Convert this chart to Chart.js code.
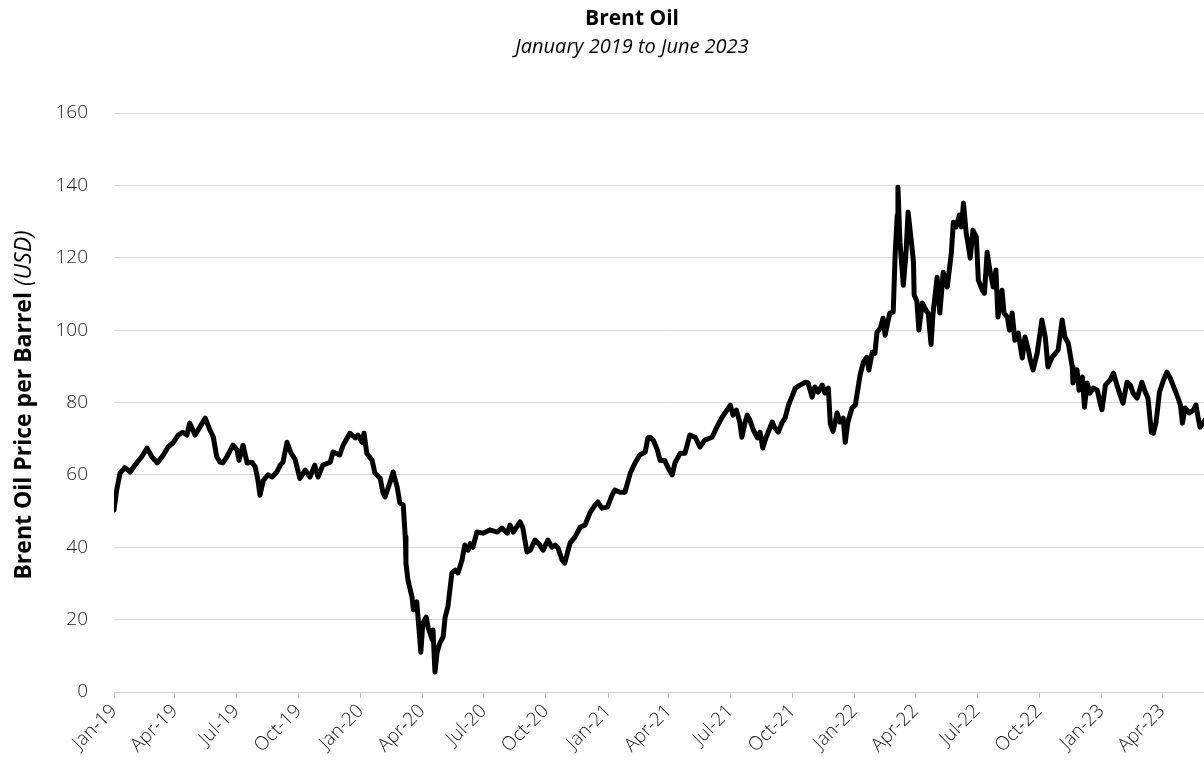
<!DOCTYPE html>
<html><head><meta charset="utf-8">
<script src="https://cdn.jsdelivr.net/npm/chart.js@4.4.1/dist/chart.umd.min.js"></script>
<style>
html,body{margin:0;padding:0;overflow:hidden;background:#fff;width:1204px;height:778px}
#wrap{position:absolute;left:0;top:0;width:1264px;height:778px}
</style></head>
<body><div id="wrap"><canvas id="c" width="1264" height="778"></canvas></div>
<script>
const titleText = "Brent Oil";
const subtitleText = "January 2019 to June 2023";
const yTitleMain = "Brent Oil Price per Barrel ";
const yTitleUnit = "(USD)";
const tickLabels = ["Jan-19","Apr-19","Jul-19","Oct-19","Jan-20","Apr-20","Jul-20","Oct-20","Jan-21","Apr-21","Jul-21","Oct-21","Jan-22","Apr-22","Jul-22","Oct-22","Jan-23","Apr-23"];
const tickDays = [0,90,181,273,365,456,547,639,731,821,912,1004,1096,1186,1277,1369,1461,1551];
// days since 1 Jan 2019
const days = [0,4,9,16,24,31,41,49,56,64,73,80,87,95,102,108,112,120,127,135,142,147,152,157,161,167,176,182,185,191,197,204,209,213,216,221,228,234,241,246,250,256,262,268,275,283,290,297,302,309,320,324,334,339,349,357,361,367,370,374,382,386,394,398,401,408,413,419,423,428,431,432,435,441,443,448,451,454,457,462,465,471,472,475,478,482,487,490,494,500,505,509,515,519,524,527,531,537,546,556,567,574,582,586,591,596,601,605,611,616,623,630,635,642,648,653,657,663,667,672,675,682,690,697,704,712,716,722,730,737,741,749,756,764,771,778,786,790,793,798,804,808,815,820,826,830,838,845,852,860,867,874,885,892,900,907,912,916,921,926,929,934,937,941,946,952,956,960,965,974,978,983,989,993,998,1003,1008,1015,1023,1027,1033,1037,1042,1048,1052,1057,1060,1064,1070,1074,1079,1082,1086,1092,1097,1100,1104,1109,1114,1117,1122,1126,1129,1134,1138,1141,1145,1148,1153,1156,1159,1160,1163,1166,1168,1172,1175,1180,1183,1184,1188,1191,1196,1200,1205,1209,1212,1218,1222,1227,1233,1239,1242,1246,1251,1254,1257,1261,1264,1267,1271,1276,1279,1285,1288,1292,1296,1301,1305,1308,1314,1317,1322,1325,1329,1333,1338,1344,1348,1353,1356,1360,1366,1373,1378,1382,1388,1393,1397,1403,1407,1412,1418,1419,1425,1428,1433,1436,1440,1444,1449,1455,1459,1462,1467,1474,1479,1484,1489,1493,1499,1504,1508,1514,1521,1526,1530,1535,1538,1542,1547,1553,1558,1563,1567,1573,1578,1581,1585,1591,1597,1601,1604,1607,1616];
const prices = [50.3,55.8,60.5,62,60.8,62.7,65,67.4,65,63.3,65.5,67.7,68.8,71,71.8,71,74.3,71,73.2,75.7,72.4,70.4,65,63.5,63.3,65,68.2,66.9,64,68.2,63.3,63.5,62.2,58.5,54.4,58.5,60,59.4,60.8,62.7,63.5,69,66,64.3,59,61.3,59.4,62.7,59.4,62.7,63.5,66.3,65.5,68.2,71.5,70.2,71,69,71.5,66,64,60.5,59,55,53.9,57.7,60.8,56.6,52.2,51.7,42.8,35.6,30.9,26.2,22.7,24.9,18,11,19,20.7,17.7,14.4,17.1,5.5,10.8,13.5,15.2,20.7,23.5,32.9,33.7,32.9,36.5,40.6,39.2,41,40,44.2,43.9,44.8,44.2,45.3,43.9,46.1,44.2,45.6,47,45.3,38.7,39.2,42,40.6,39.2,42,40,40.6,39.8,36.5,35.6,39.2,41.2,42.8,45.6,46.1,49.4,51.7,52.5,50.8,51.1,54.4,55.8,55.2,55.2,60.5,63.3,65.5,66.3,70.2,70.4,69.6,66.9,64,64,61.9,60,63.3,66,66,71,70.4,67.7,69.6,70.4,73.2,76,77.9,79.3,76.5,77.9,74.5,70.4,74.6,76.5,75.1,72.4,70.2,71.8,67.4,70.4,74.6,72.9,71.8,74.6,75.7,79.3,81.5,84,84.8,85.6,85.4,81.5,84.3,82.9,84.8,82.6,84,74,72,77.1,74.6,75.7,69,74.6,78.5,79.3,82.9,87.6,91.2,92.5,89,93.9,93.6,99.4,100.6,103.3,98.6,102.2,104.7,105,121.5,131.8,139.5,124.3,117.1,112.4,121.5,132.6,124.3,118.8,109.7,108,100,107.5,106,104.5,96,104.7,114.6,104.7,116,111.9,121.3,129.8,128.5,131.8,128.5,135.1,126.8,123.5,119.9,127.6,125.7,113.8,111,110.2,121.5,116.6,111.9,116.6,103.6,111,104.7,103.6,100,104.7,97.2,99.2,92.3,98.1,94.5,91.7,89,93.6,102.8,98.1,89.8,92.5,93.6,94.5,102.8,98.1,96.4,89.8,85.4,89,83.4,87,78.7,85.4,82.6,84,83.4,80,78,84.8,86.2,88.1,84.8,82,79.8,85.6,84.8,82.6,81.2,85.6,82.9,81.2,71.8,71.5,74.6,82.9,86.2,88.4,86.7,84.8,82,79.3,74.3,78.5,77.1,77.9,79.3,76,73.2,75.5];

const FONT = '"Open Sans", "Liberation Sans", sans-serif';
const points = days.map((d, i) => ({ x: d, y: prices[i] }));

const textPlugin = {
  id: 'texts',
  afterDraw(chart) {
    const ctx = chart.ctx;
    ctx.save();
    ctx.fillStyle = '#000';
    ctx.textAlign = 'center';
    ctx.textBaseline = 'middle';
    ctx.font = 'bold 21px ' + FONT;
    ctx.fillText(titleText, 632, 19);
    ctx.font = 'italic 20px ' + FONT;
    ctx.fillText(subtitleText, 632, 47);
    // y axis title, rotated
    ctx.translate(24, 405);
    ctx.rotate(-Math.PI / 2);
    const f1 = 'bold 23px ' + FONT, f2 = 'italic 23px ' + FONT;
    ctx.font = f1; const w1 = ctx.measureText(yTitleMain).width;
    ctx.font = f2; const w2 = ctx.measureText(yTitleUnit).width;
    const start = -(w1 + w2) / 2;
    ctx.textAlign = 'left';
    ctx.font = f1; ctx.fillText(yTitleMain, start, 0);
    ctx.font = f2; ctx.fillText(yTitleUnit, start + w1, 0);
    ctx.restore();
  }
};

new Chart(document.getElementById('c'), {
  type: 'line',
  data: { datasets: [{ data: points, borderColor: '#000', borderWidth: 5, pointRadius: 0, tension: 0, borderJoinStyle: 'round', borderCapStyle: 'round', fill: false }] },
  plugins: [textPlugin],
  options: {
    responsive: false, animation: false, devicePixelRatio: 1,
    layout: { padding: { top: 113, right: 41, left: 0, bottom: 0 } },
    plugins: { legend: { display: false }, title: { display: false }, tooltip: { enabled: false } },
    scales: {
      x: {
        type: 'linear', min: 0, max: 1641,
        afterBuildTicks: s => { s.ticks = tickDays.map(v => ({ value: v })); },
        afterFit: s => { s.height = 86; },
        ticks: {
          autoSkip: false, maxRotation: 45, minRotation: 45, padding: 2, color: '#1a1a1a',
          font: { family: FONT, size: 19, weight: 300 },
          callback: (v, i) => tickLabels[i]
        },
        grid: { display: true, drawOnChartArea: false, drawTicks: true, tickLength: 6, color: '#bfbfbf' },
        border: { display: true, color: '#d0d0d0' }
      },
      y: {
        min: 0, max: 160,
        afterFit: s => { s.width = 114; },
        ticks: { stepSize: 20, padding: 26, color: '#1a1a1a', font: { family: FONT, size: 19, weight: 300 } },
        grid: { color: '#d9d9d9', drawTicks: false },
        border: { display: false }
      }
    }
  }
});
</script>
</body></html>
